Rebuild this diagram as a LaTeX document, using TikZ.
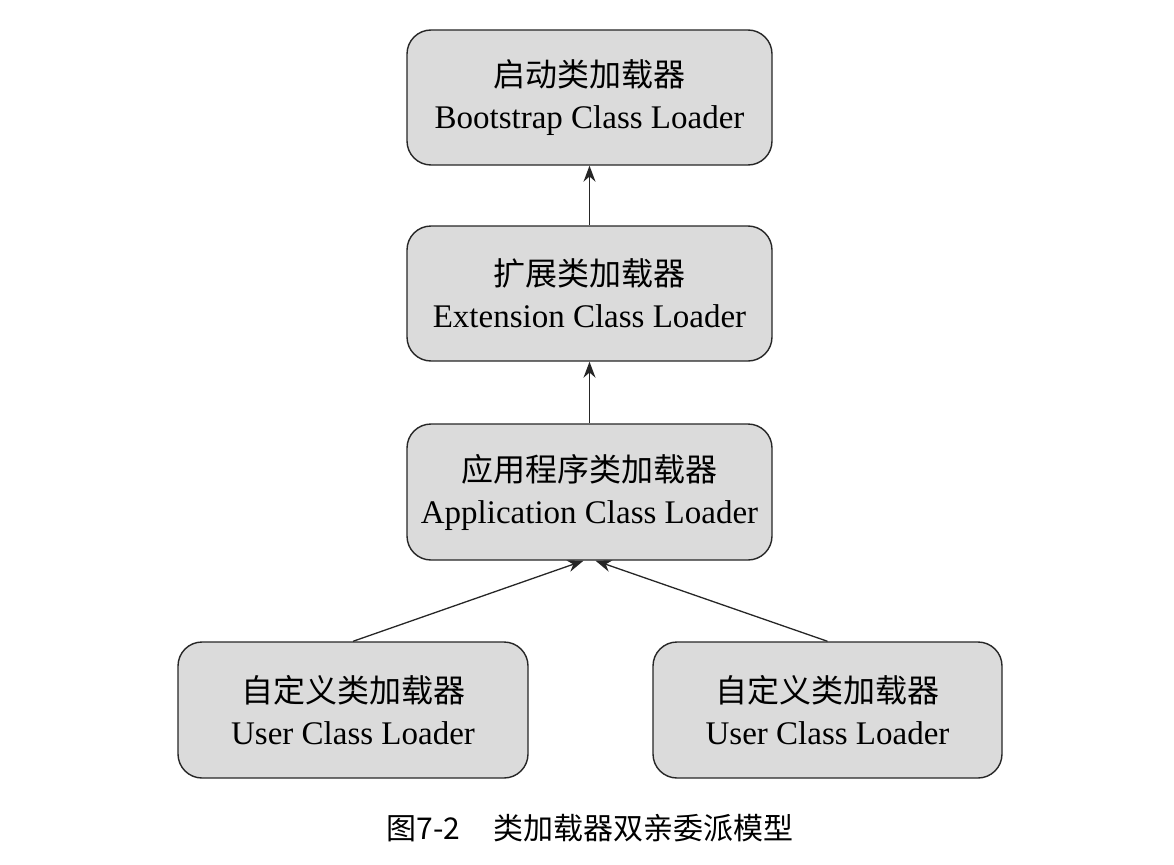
\documentclass[tikz,border=0pt]{standalone}
\usepackage{fontspec}
\setmainfont{Liberation Serif}
\newfontfamily\cjk{Noto Sans CJK SC}
\usetikzlibrary{arrows.meta}
\begin{document}
\begin{tikzpicture}[x=1pt,y=-1pt,
  box/.style={draw=black!85,line width=1.4pt,fill=black!14,rounded corners=24pt,
    inner sep=0pt,align=center,font=\fontsize{33}{42}\selectfont},
  arr/.style={line width=1.3pt,draw=black!85,-{Stealth[length=16pt,width=12pt]}}]
\useasboundingbox (0,0) rectangle (1174,864);
\node[box,minimum width=365pt,minimum height=135pt] (boot) at (589.5,97.5)
  {{\cjk\fontsize{32}{42}\selectfont 启动类加载器}\\Bootstrap Class Loader};
\node[box,minimum width=365pt,minimum height=135pt] (ext) at (589.5,293.5)
  {{\cjk\fontsize{32}{42}\selectfont 扩展类加载器}\\Extension Class Loader};
\node[box,minimum width=365pt,minimum height=136pt] (app) at (589.5,492)
  {{\cjk\fontsize{32}{42}\selectfont 应用程序类加载器}\\Application Class Loader};
\node[box,minimum width=350pt,minimum height=136pt] (u1) at (353,710)
  {{\cjk\fontsize{32}{42}\selectfont 自定义类加载器}\\User Class Loader};
\node[box,minimum width=349pt,minimum height=136pt] (u2) at (827.5,710)
  {{\cjk\fontsize{32}{42}\selectfont 自定义类加载器}\\User Class Loader};
\draw[arr] (ext.north) -- (boot.south);
\draw[arr] (app.north) -- (ext.south);
\draw[arr] (u1.north) -- ([xshift=-6pt]app.south);
\draw[arr] (u2.north) -- ([xshift=6pt]app.south);
\node[font=\cjk\fontsize{30}{32}\selectfont,inner sep=0pt] (cap) at (590,828)
  {图7-2\hspace{1.1em}类加载器双亲委派模型};
\end{tikzpicture}
\end{document}
